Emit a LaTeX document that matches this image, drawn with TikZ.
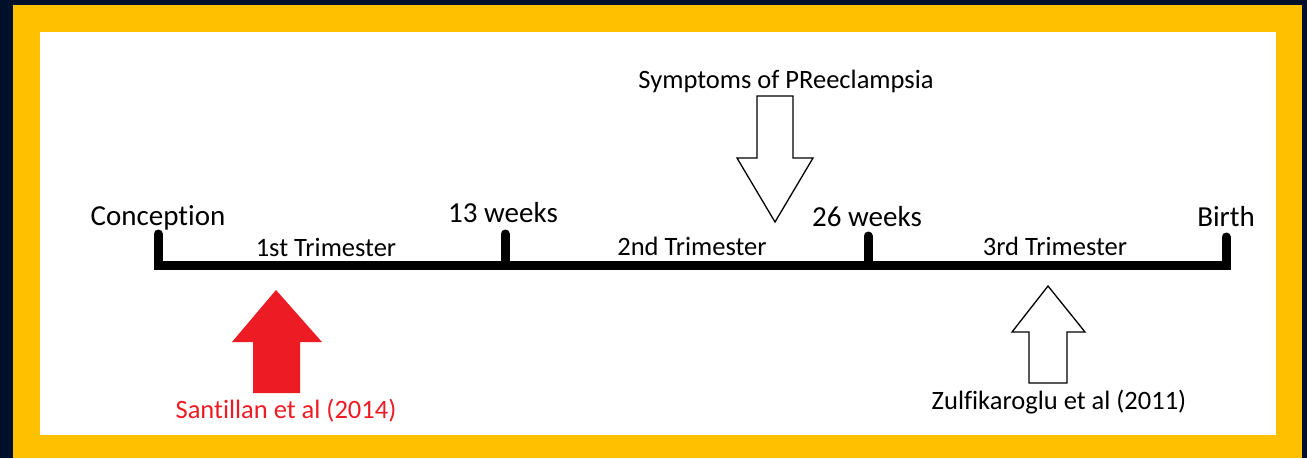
\documentclass[tikz,border=0pt]{standalone}
\usepackage{fontspec}
\setmainfont{Carlito}[Ligatures=NoCommon]
\definecolor{navy}{HTML}{00102A}
\definecolor{gold}{HTML}{FFC000}
\definecolor{arrred}{HTML}{ED1C24}
\begin{document}
\begin{tikzpicture}[x=1pt,y=-1pt,
  big/.style={font=\fontsize{29}{32}\selectfont, anchor=base, inner sep=0pt, text=black},
  small/.style={font=\fontsize{26.5}{30}\selectfont, anchor=base, inner sep=0pt, text=black},
  bar/.style={line width=9pt, line join=miter, line cap=round},
  outlinearrow/.style={draw=black, fill=white, line width=1.3pt, line join=miter},
  redarrow/.style={fill=arrred}
]
\useasboundingbox (0,0) rectangle (1307,458);
\fill[navy] (0,0) rectangle (1307,458);
\fill[gold] (13,5) rectangle (1302,458);
\fill[white] (40,32) rectangle (1276,435);

% timeline
\coordinate (t0) at (158,265);
\coordinate (t1) at (505,265);
\coordinate (t2) at (868,265);
\coordinate (t3) at (1226,265);
\coordinate (k0) at (158,234);
\coordinate (k1) at (505,234);
\coordinate (k2) at (868,236);
\coordinate (k3) at (1226,237);
\draw[bar] (k0) -- (t0) -- (t3) -- (k3);
\draw[bar] (k1) -- (t1);
\draw[bar] (k2) -- (t2);

% labels
\node[big] (conc) at (158,225) {Conception};
\node[big] (w13) at (503,222) {13 weeks};
\node[big] (w26) at (867,226) {26 weeks};
\node[big] (birth) at (1226,226) {Birth};
\node[small] (tri1) at (326,256) {1st Trimester};
\node[small] (tri2) at (692,255) {2nd Trimester};
\node[small] (tri3) at (1055,255) {3rd Trimester};
\node[small] (symp) at (786,88) {Symptoms of PReeclampsia};
\node[small, text=arrred] (sant) at (286,418) {Santillan et al (2014)};
\node[small] (zulf) at (1059,409) {Zulfikaroglu et al (2011)};

% arrows
\draw[outlinearrow] (757,96) -- (793,96) -- (793,158) -- (813,158) -- (775,222) -- (737,158) -- (757,158) -- cycle;
\fill[redarrow] (253,393) -- (253,342) -- (232,342) -- (276,290) -- (322,342) -- (300,342) -- (300,393) -- cycle;
\draw[outlinearrow] (1029,383) -- (1029,332) -- (1012,332) -- (1048,286) -- (1085,332) -- (1067,332) -- (1067,383) -- cycle;
\end{tikzpicture}
\end{document}
